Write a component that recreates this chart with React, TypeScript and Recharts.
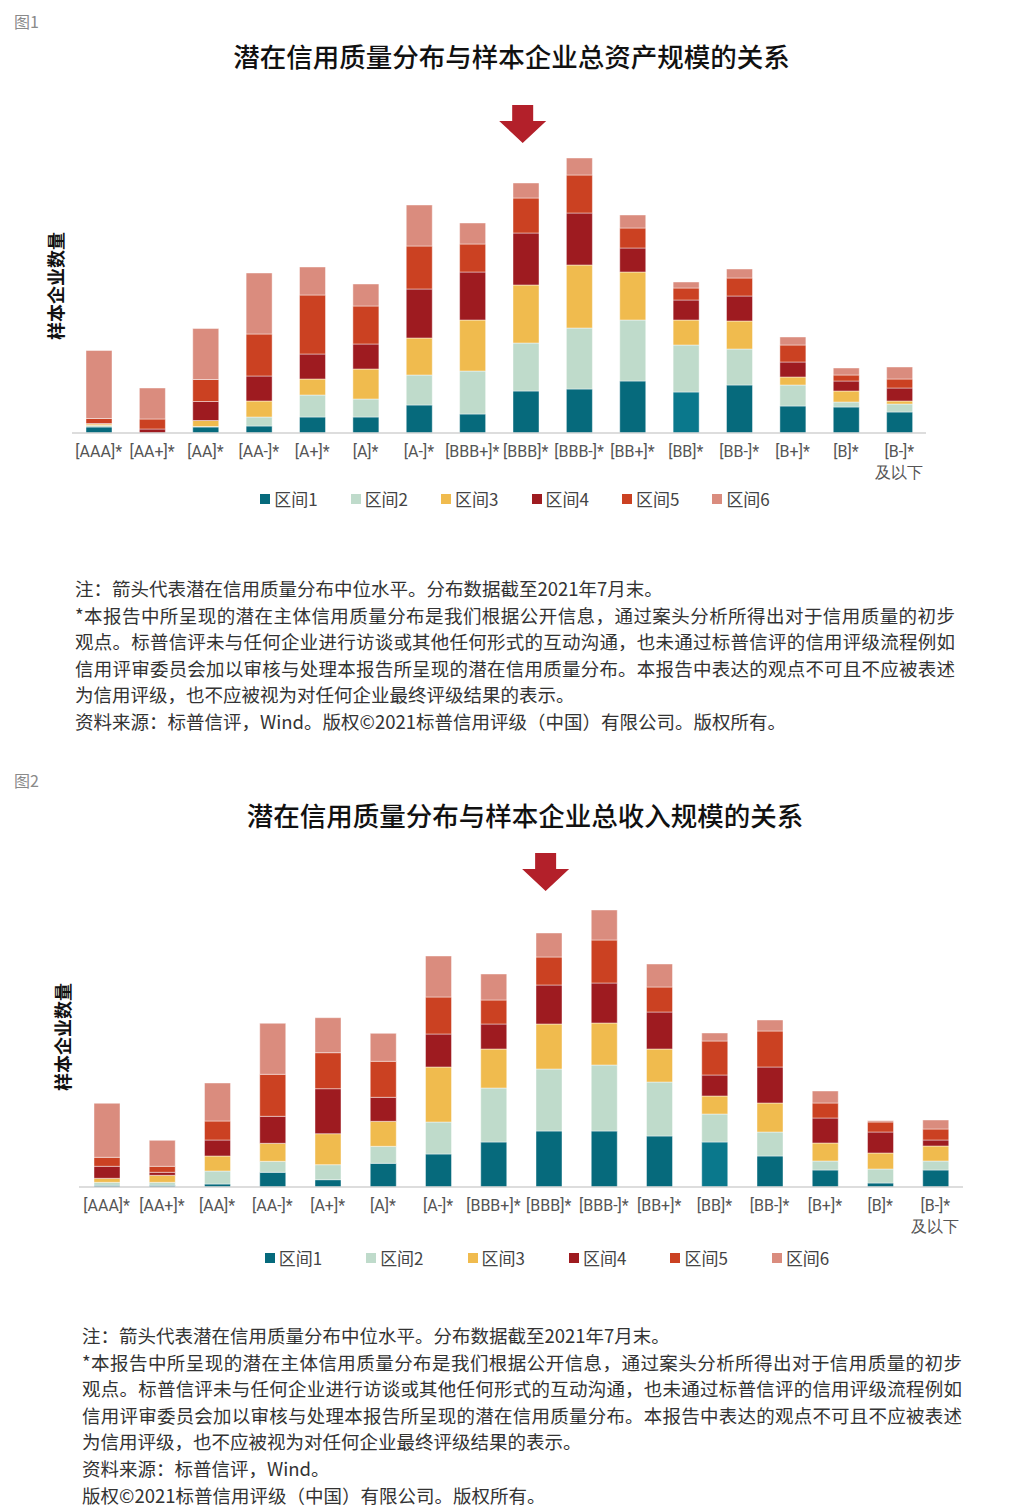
import React from 'react'
import { BarChart, Bar, XAxis, YAxis, Legend, ReferenceDot, Cell } from 'recharts'

const categories = ['[AAA]*', '[AA+]*', '[AA]*', '[AA-]*', '[A+]*', '[A]*', '[A-]*', '[BBB+]*', '[BBB]*', '[BBB-]*', '[BB+]*', '[BB]*', '[BB-]*', '[B+]*', '[B]*', '[B-]*\n及以下']
const medianCategory = '[BBB]*'
const bandNames = ['区间1', '区间2', '区间3', '区间4', '区间5', '区间6']
const bandColors = ['#066a7c', '#bfdbcb', '#f0bb4e', '#9e1b20', '#cb4122', '#da8c7e']
const lightTeal = '#0a788c' // the [BB]* 区间1 block is a touch lighter in both figures

// figure 1: total assets
const assetBand1 = [6, 0, 6, 7, 16, 16, 28, 19, 42, 44, 52, 41, 48, 27, 26, 21]
const assetBand2 = [1.5, 0, 0.5, 9, 22, 18, 30, 43, 48, 61, 61, 47, 36, 21, 5, 8]
const assetBand3 = [1.5, 0, 6, 16, 16, 30, 37, 51, 58, 63, 48, 25, 28, 8, 11, 3]
const assetBand4 = [0.5, 4, 19, 25, 25, 25, 49, 48, 52, 52, 24, 20, 25, 15, 10, 13]
const assetBand5 = [5, 10, 22, 42, 59, 38, 43, 28, 35, 38, 20, 12, 18, 17, 6, 9]
const assetBand6 = [68, 31, 51, 61, 28, 22, 41, 21, 15, 17, 13, 6, 9, 8, 7, 12]

// figure 2: total revenue
const revenueBand1 = [1.7, 1.7, 3, 14.7, 7.3, 23.7, 33, 45, 56, 56, 51, 45, 31, 17, 4, 17]
const revenueBand2 = [3, 3, 13, 11, 15, 17, 32, 54, 62, 66, 54, 28, 24, 9, 14, 9]
const revenueBand3 = [4, 7, 15, 18, 31, 25, 55, 39, 45, 42, 33, 18, 29, 18, 16, 15]
const revenueBand4 = [12, 3, 16, 27, 45, 24, 33, 25, 39, 40, 37, 21, 36, 25, 21, 6]
const revenueBand5 = [9, 6, 19, 42, 36, 36, 37, 24, 28, 43, 25, 34, 36, 15, 10, 11]
const revenueBand6 = [54, 26, 38, 51, 35, 28, 41, 26, 24, 30, 23, 8, 11, 12, 1.3, 9]

const noteLines = [
  '注：箭头代表潜在信用质量分布中位水平。分布数据截至2021年7月末。',
  '*本报告中所呈现的潜在主体信用质量分布是我们根据公开信息，通过案头分析所得出对于信用质量的初步',
  '观点。标普信评未与任何企业进行访谈或其他任何形式的互动沟通，也未通过标普信评的信用评级流程例如',
  '信用评审委员会加以审核与处理本报告所呈现的潜在信用质量分布。本报告中表达的观点不可且不应被表述',
  '为信用评级，也不应被视为对任何企业最终评级结果的表示。',
]
const justifiedLines = [1, 2, 3]
const sourceLines1 = ['资料来源：标普信评，Wind。版权©2021标普信用评级（中国）有限公司。版权所有。']
const sourceLines2 = ['资料来源：标普信评，Wind。', '版权©2021标普信用评级（中国）有限公司。版权所有。']

const cjk = '"Noto Sans CJK SC", "Noto Sans", sans-serif'

function buildRows(bands: number[][]) {
  return categories.map((name, i) => ({
    name,
    r1: bands[0][i], r2: bands[1][i], r3: bands[2][i],
    r4: bands[3][i], r5: bands[4][i], r6: bands[5][i],
  }))
}

const assetRows = buildRows([assetBand1, assetBand2, assetBand3, assetBand4, assetBand5, assetBand6])
const revenueRows = buildRows([revenueBand1, revenueBand2, revenueBand3, revenueBand4, revenueBand5, revenueBand6])

function RatingTick({ x, y, payload }: any) {
  const lines = String(payload.value).split('\n')
  return (
    <text x={x} y={y} textAnchor="middle" fill="#555" fontSize={16} fontFamily="Roboto, sans-serif">
      {lines.map((t, i) => (
        <tspan key={i} x={x} dy={i === 0 ? '0.71em' : '1.3em'}>{t}</tspan>
      ))}
    </text>
  )
}

function MedianArrow({ cx, cy }: any) {
  const x = cx - 3
  const pts = [
    [x, cy], [x - 23.5, cy - 22], [x - 10.5, cy - 22], [x - 10.5, cy - 38],
    [x + 10.5, cy - 38], [x + 10.5, cy - 22], [x + 23.5, cy - 22],
  ]
  return <polygon points={pts.map((p) => p.join(',')).join(' ')} fill="#b3202a" />
}

function BandLegend({ gap }: { gap: number }) {
  return (
    <div style={{ display: 'flex', justifyContent: 'center', gap, fontFamily: cjk, fontSize: 17, color: '#444', lineHeight: '25px' }}>
      {bandNames.map((n, i) => (
        <span key={n} style={{ display: 'flex', alignItems: 'center' }}>
          <span style={{ width: 10, height: 10, background: bandColors[i], marginRight: 4, display: 'inline-block' }} />
          {n}
        </span>
      ))}
    </div>
  )
}

function StackChart({ rows, top, margin, yMax, arrowAt, legendTop, legendLeft, legendGap }: any) {
  const height = margin.top + yMax + 60
  return (
    <div style={{ position: 'absolute', left: 0, top }}>
      <BarChart width={1034} height={height} data={rows} margin={margin} barSize={26}>
        <XAxis
          dataKey="name"
          interval={0}
          tickLine={false}
          tickSize={0}
          tickMargin={13}
          height={60}
          tick={<RatingTick />}
          axisLine={{ stroke: '#d2d2d2', strokeWidth: 1.5 }}
        />
        <YAxis hide type="number" domain={[0, yMax]} />
        {bandNames.map((n, i) => (
          <Bar
            key={n}
            dataKey={'r' + (i + 1)}
            name={n}
            stackId="a"
            fill={bandColors[i]}
            stroke="#ffffff"
            strokeOpacity={0.55}
            strokeWidth={0.8}
            isAnimationActive={false}
          >
            {i === 0 && rows.map((r: any) => (
              <Cell key={r.name} fill={r.name === '[BB]*' ? lightTeal : bandColors[0]} />
            ))}
          </Bar>
        ))}
        <ReferenceDot x={medianCategory} y={arrowAt} r={0} shape={<MedianArrow />} />
        <Legend
          verticalAlign="middle"
          align="center"
          content={() => <BandLegend gap={legendGap} />}
          wrapperStyle={{ top: legendTop, left: legendLeft, width: 1034 }}
        />
      </BarChart>
    </div>
  )
}

function Notes({ left, top, extra }: { left: number; top: number; extra: string[] }) {
  const lines = [...noteLines, ...extra]
  return (
    <div style={{ position: 'absolute', left, top, width: 880, fontFamily: cjk, fontSize: 18.5, color: '#333', lineHeight: '26.6px' }}>
      {lines.map((t, i) => (
        <div
          key={i}
          style={{
            whiteSpace: 'nowrap',
            textAlign: justifiedLines.includes(i) ? 'justify' : 'left',
            textAlignLast: justifiedLines.includes(i) ? 'justify' : 'left',
          }}
        >
          {t}
        </div>
      ))}
    </div>
  )
}

function Title({ text, cx, cy }: { text: string; cx: number; cy: number }) {
  return (
    <div style={{ position: 'absolute', left: cx, top: cy, transform: 'translate(-50%, -50%)', whiteSpace: 'nowrap', fontFamily: cjk, fontSize: 26.5, fontWeight: 500, color: '#111' }}>
      {text}
    </div>
  )
}

function AxisTitle({ cx, cy }: { cx: number; cy: number }) {
  return (
    <div style={{ position: 'absolute', left: cx, top: cy, transform: 'translate(-50%, -50%) rotate(-90deg)', whiteSpace: 'nowrap', fontFamily: cjk, fontSize: 18, fontWeight: 700, color: '#111' }}>
      样本企业数量
    </div>
  )
}

function FigLabel({ text, top }: { text: string; top: number }) {
  return (
    <div style={{ position: 'absolute', left: 14, top, fontFamily: cjk, fontSize: 16, color: '#8a8a8a', lineHeight: '20px' }}>
      {text}
    </div>
  )
}

export default function App() {
  return (
    <div style={{ position: 'absolute', left: 0, top: 0, width: 1034, height: 1512, background: '#fff', overflow: 'hidden' }}>
      <FigLabel text="图1" top={11} />
      <Title text="潜在信用质量分布与样本企业总资产规模的关系" cx={511.5} cy={55} />
      <AxisTitle cx={55} cy={286} />
      <StackChart
        rows={assetRows}
        top={80}
        margin={{ top: 13, right: 108, left: 72, bottom: 0 }}
        yMax={340}
        arrowAt={290}
        legendTop={406}
        legendLeft={-2}
        legendGap={33}
      />
      <Notes left={75} top={575} extra={sourceLines1} />

      <FigLabel text="图2" top={770} />
      <Title text="潜在信用质量分布与样本企业总收入规模的关系" cx={525} cy={814} />
      <AxisTitle cx={62} cy={1037} />
      <StackChart
        rows={revenueRows}
        top={830}
        margin={{ top: 12, right: 71, left: 79, bottom: 0 }}
        yMax={345}
        arrowAt={296}
        legendTop={415}
        legendLeft={30}
        legendGap={44}
      />
      <Notes left={82} top={1322} extra={sourceLines2} />
    </div>
  )
}
